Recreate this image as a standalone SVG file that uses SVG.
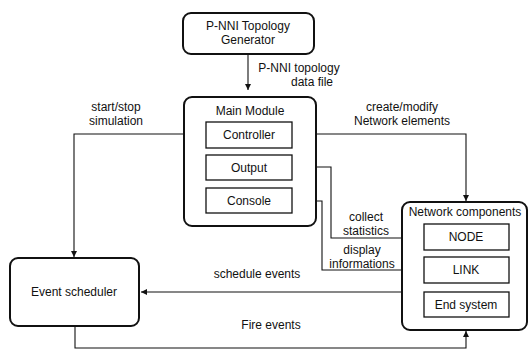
<svg xmlns="http://www.w3.org/2000/svg" width="529" height="350" viewBox="0 0 529 350">
<defs>
<marker id="ah" markerWidth="6" markerHeight="6" refX="6" refY="3" orient="auto" markerUnits="userSpaceOnUse">
<path d="M0,0 L6,3 L0,6 Z" fill="#111"/>
</marker>
</defs>
<style>
text{font-family:"Liberation Sans",Arial,sans-serif;font-size:12px;fill:#111;text-anchor:middle}
.outer{fill:#fff;stroke:#111;stroke-width:2}
.inner{fill:#fff;stroke:#111;stroke-width:1.3}
.c{fill:none;stroke:#111;stroke-width:1.1}
</style>
<rect width="529" height="350" fill="#fff"/>
<g id="connectors">
<path class="c" d="M248,54 V90" marker-end="url(#ah)"/>
<path class="c" d="M206,134 H74 V257" marker-end="url(#ah)"/>
<path class="c" d="M292,134 H466 V201" marker-end="url(#ah)"/>
<path class="c" d="M402,238 H331 V167 H293" marker-end="url(#ah)"/>
<path class="c" d="M402,270 H322 V201 H293" marker-end="url(#ah)"/>
<path class="c" d="M402,292 H141" marker-end="url(#ah)"/>
<path class="c" d="M75,326 V348 H466 V331" marker-end="url(#ah)"/>
<text x="299" y="72">P-NNI topology</text>
<text x="312" y="86">data file</text>
<text x="116" y="111">start/stop</text>
<text x="116" y="125">simulation</text>
<text x="402" y="111">create/modify</text>
<text x="402" y="125">Network elements</text>
<text x="366" y="221">collect</text>
<text x="366" y="235">statistics</text>
<text x="362" y="254">display</text>
<text x="362" y="268">informations</text>
<text x="257" y="278">schedule events</text>
<text x="271" y="329">Fire events</text>
</g>
<g id="generator">
<rect class="outer" x="183" y="13" width="131" height="41" rx="8"/>
<text x="248" y="30">P-NNI Topology</text>
<text x="248" y="44">Generator</text>
</g>
<g id="main-module">
<rect class="outer" x="184" y="97" width="132" height="129" rx="8"/>
<text x="250" y="115">Main Module</text>
<g id="controller">
<rect class="inner" x="206" y="122" width="86" height="26"/>
<text x="249" y="139">Controller</text>
</g>
<g id="output">
<rect class="inner" x="206" y="155" width="86" height="25"/>
<text x="249" y="172">Output</text>
</g>
<g id="console">
<rect class="inner" x="206" y="188" width="86" height="25"/>
<text x="249" y="205">Console</text>
</g>
</g>
<g id="network-components">
<rect class="outer" x="402" y="202" width="125" height="128" rx="8"/>
<text x="465" y="216">Network components</text>
<g id="node">
<rect class="inner" x="424" y="224" width="85" height="26"/>
<text x="466" y="241">NODE</text>
</g>
<g id="link">
<rect class="inner" x="424" y="257" width="85" height="26"/>
<text x="466" y="274">LINK</text>
</g>
<g id="end-system">
<rect class="inner" x="424" y="292" width="85" height="25"/>
<text x="466" y="309">End system</text>
</g>
</g>
<g id="event-scheduler">
<rect class="outer" x="10" y="258" width="129" height="68" rx="8"/>
<text x="74" y="296">Event scheduler</text>
</g>
</svg>
